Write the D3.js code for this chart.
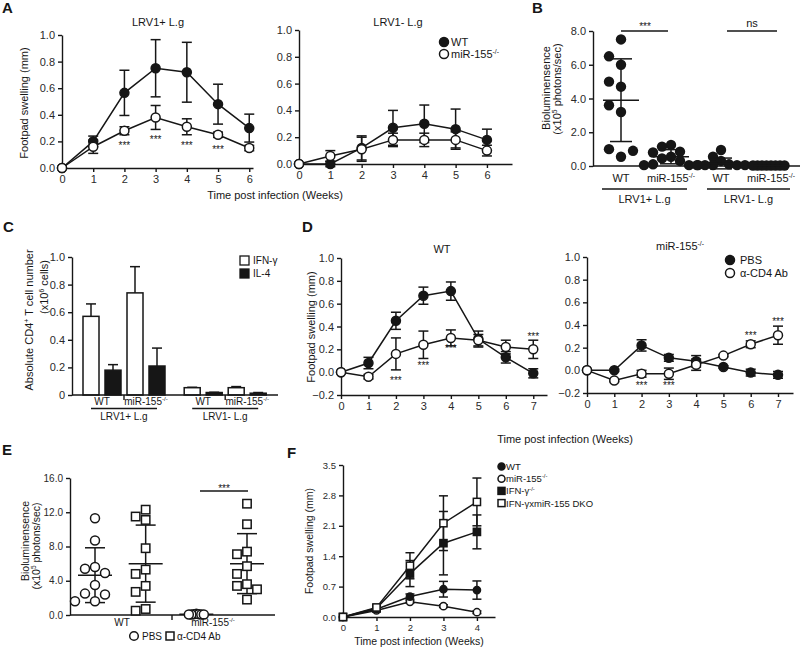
<!DOCTYPE html>
<html>
<head>
<meta charset="utf-8">
<script src="https://cdn.jsdelivr.net/npm/d3@7"></script>
<style>
  body { margin: 0; background: #fff; }
</style>
</head>
<body>
<svg id="fig" width="800" height="648"></svg>
<script>
/* global d3 */
const FONT = '"Liberation Sans", Arial, Helvetica, sans-serif'
const INK = '#161616'

// ---- A: footpad swelling, LRV1+ and LRV1- ----
const weeksA = [0, 1, 2, 3, 4, 5, 6]
const aPosWT = [0, 0.20, 0.565, 0.75, 0.72, 0.48, 0.30]
const aPosWTErr = [0, 0.04, 0.17, 0.215, 0.225, 0.15, 0.105]
const aPosKO = [0, 0.16, 0.28, 0.38, 0.31, 0.25, 0.15]
const aPosKOErr = [0, 0.05, 0.03, 0.09, 0.06, 0.02, 0.02]
const aPosStarWeeks = [2, 3, 4, 5]
const aPosStarAt = [0.186, 0.235, 0.186, 0.16]
const aNegWT = [0, 0.0, 0.12, 0.27, 0.30, 0.26, 0.18]
const aNegWTErr = [0, 0.02, 0.09, 0.13, 0.14, 0.15, 0.08]
const aNegKO = [0, 0.06, 0.11, 0.18, 0.18, 0.18, 0.10]
const aNegKOErr = [0, 0.04, 0.09, 0.05, 0.05, 0.06, 0.04]
const aTicks = [0, 0.2, 0.4, 0.6, 0.8, 1.0]

// ---- B: bioluminescence ----
const bGroups = ['WT', 'miR-155^{-/-}', 'WT', 'miR-155^{-/-}']
const bInfections = ['LRV1+ L.g', 'LRV1- L.g']
const bPosWT = [7.5, 6.0, 4.7, 3.2, 0.55, 6.5, 5.0, 3.6, 1.0, 0.9]
const bPosKO = [1.25, 1.15, 0.85, 0.8, 0.55, 0.45, 0.3, 0.1, 0.05, 0.05, 0.05]
const bNegWT = [0.95, 0.55, 0.3, 0.1, 0.05, 0.05, 0.05, 0.05, 0.05]
const bNegKO = [0.03, 0.03, 0.03, 0.03, 0.03, 0.03, 0.03, 0.03]
const bMean = [3.9, 0.55, 0.15, 0.03]
const bSD = [2.45, 0.42, 0.32, 0.01]
const bTicks = [0, 2, 4, 6, 8]

// ---- C: CD4+ T cells ----
const cGroups = ['WT', 'miR-155^{-/-}', 'WT', 'miR-155^{-/-}']
const cIFN = [0.57, 0.74, 0.053, 0.053]
const cIFNErr = [0.09, 0.19, 0.003, 0.008]
const cIL4 = [0.18, 0.21, 0.018, 0.013]
const cIL4Err = [0.04, 0.13, 0.002, 0.005]
const cTicks = [0, 0.2, 0.4, 0.6, 0.8, 1.0]

// ---- D: anti-CD4 depletion ----
const weeksD = [0, 1, 2, 3, 4, 5, 6, 7]
const dWtPBS = [0, 0.08, 0.45, 0.67, 0.71, 0.29, 0.13, -0.01]
const dWtPBSErr = [0, 0.05, 0.075, 0.075, 0.08, 0.07, 0.05, 0.04]
const dWtCD4 = [0, -0.04, 0.16, 0.24, 0.30, 0.28, 0.22, 0.20]
const dWtCD4Err = [0, 0.02, 0.14, 0.12, 0.07, 0.05, 0.06, 0.08]
const dWtStarWeeks = [2, 3, 4, 7]
const dWtStarAt = [-0.05, 0.08, 0.23, 0.33]
const dKoPBS = [0, 0.0, 0.22, 0.11, 0.08, 0.03, -0.02, -0.04]
const dKoPBSErr = [0, 0.01, 0.05, 0.03, 0.05, 0.01, 0.03, 0.03]
const dKoCD4 = [0, -0.09, -0.03, -0.03, 0.05, 0.13, 0.23, 0.31]
const dKoCD4Err = [0, 0.01, 0.03, 0.05, 0.05, 0.01, 0.03, 0.08]
const dKoStarWeeks = [2, 3, 6, 7]
const dKoStarAt = [-0.11, -0.11, 0.33, 0.45]
const dTicks = [-0.2, 0, 0.2, 0.4, 0.6, 0.8, 1.0]

// ---- E: bioluminescence after depletion ----
const eGroups = ['WT', 'miR-155^{-/-}']
const eWtPBS = [11.3, 8.7, 5.6, 5.4, 4.9, 3.5, 2.5, 2.4, 1.6, 1.6]
const eWtCD4 = [12.3, 11.5, 11.1, 7.8, 5.3, 4.8, 3.4, 2.7, 0.7, 0.5]
const eKoPBS = [0.15, 0.1, 0.1, 0.05, 0.05, 0.05, 0.05]
const eKoCD4 = [13.0, 10.6, 7.4, 7.1, 5.7, 4.8, 3.6, 3.4, 3.0, 1.8]
const eMean = [4.65, 6.0, 0.08, 6.0]
const eSD = [3.2, 4.5, 0.05, 3.5]
const eTicks = [0, 4, 8, 12, 16]

// ---- F: IFN-g knockouts ----
const weeksF = [0, 1, 2, 3, 4]
const fWT = [0, 0.18, 0.47, 0.64, 0.62]
const fWTErr = [0, 0.03, 0.06, 0.18, 0.21]
const fKO = [0, 0.15, 0.35, 0.25, 0.11]
const fKOErr = [0, 0.03, 0.03, 0.03, 0.03]
const fIFN = [0, 0.2, 1.0, 1.7, 1.96]
const fIFNErr = [0, 0.05, 0.3, 0.73, 0.39]
const fDKO = [0, 0.22, 1.18, 2.16, 2.65]
const fDKOErr = [0, 0.05, 0.3, 0.63, 0.55]
const fTicks = [0, 0.7, 1.4, 2.1, 2.8, 3.5]
const fLegend = ['WT', 'miR-155^{-/-}', 'IFN-γ^{-/-}', 'IFN-γxmiR-155 DKO']

const svg = d3.select('#fig').style('font-family', FONT)

// text with ^{...} superscripts
function richText(parent, str, size) {
  const t = parent.append('text').style('font-size', size + 'px').attr('fill', INK)
  let raised = false
  str.split(/\^\{([^}]*)\}/).forEach((s, i) => {
    if (!s) return
    if (i % 2) {
      t.append('tspan').attr('dy', -size * 0.4).style('font-size', (size * 0.62) + 'px').text(s)
      raised = true
    } else {
      const ts = t.append('tspan').text(s)
      if (raised) { ts.attr('dy', size * 0.4); raised = false }
    }
  })
  return t
}

function label(str, x, y, size, anchor = 'middle', rotate = false) {
  const t = richText(svg, str, size).attr('text-anchor', anchor)
  if (rotate) t.attr('transform', `translate(${x},${y}) rotate(-90)`)
  else t.attr('x', x).attr('y', y)
  return t
}

function styleAxis(g, size) {
  g.attr('font-family', FONT).attr('font-size', size)
  g.selectAll('path.domain').attr('stroke', INK).attr('stroke-width', 1.4)
  g.selectAll('.tick line').attr('stroke', INK).attr('stroke-width', 1.4)
  g.selectAll('.tick text').attr('fill', '#2a2a2a')
}

function marker(g, shape, filled, cx, cy, r) {
  const m = shape === 'square'
    ? g.append('rect').attr('x', cx - r).attr('y', cy - r).attr('width', 2 * r).attr('height', 2 * r)
    : g.append('circle').attr('cx', cx).attr('cy', cy).attr('r', r)
  m.attr('fill', filled ? INK : '#fff').attr('stroke', INK).attr('stroke-width', 1.5)
}

function starText(g, x, y) {
  g.append('text').attr('x', x).attr('y', y + 6).attr('text-anchor', 'middle')
    .style('font-size', '10px').attr('fill', INK).text('***')
}

// generic time-course panel
function xyPanel(c) {
  const x = d3.scaleLinear().domain(c.xDomain).range(c.xRange)
  const y = d3.scaleLinear().domain(c.yDomain).range(c.yRange)
  const g = svg.append('g')
  g.append('g').attr('transform', `translate(0,${c.yRange[0]})`)
    .call(d3.axisBottom(x).tickValues(c.weeks).tickFormat(d3.format('d')).tickSize(4).tickSizeOuter(0))
    .call(styleAxis, c.font)
  g.append('g').attr('transform', `translate(${c.xRange[0]},0)`)
    .call(d3.axisLeft(y).tickValues(c.yTicks).tickFormat(d3.format('.1f')).tickSize(4).tickSizeOuter(0))
    .call(styleAxis, c.font)

  const line = d3.line().x((d, i) => x(c.weeks[i])).y((d) => y(d))
  c.series.forEach((s) => {
    g.append('path').datum(s.values).attr('fill', 'none')
      .attr('stroke', INK).attr('stroke-width', 1.5).attr('d', line)
  })
  c.series.forEach((s) => {
    const eb = g.append('g').attr('stroke', INK).attr('stroke-width', 1.5)
    s.values.forEach((v, i) => {
      const e = s.err[i]
      if (!e) return
      const cx = x(c.weeks[i])
      eb.append('line').attr('x1', cx).attr('x2', cx).attr('y1', y(v - e)).attr('y2', y(v + e))
      ;[v - e, v + e].forEach((t) => eb.append('line')
        .attr('x1', cx - c.cap).attr('x2', cx + c.cap).attr('y1', y(t)).attr('y2', y(t)))
    })
  })
  c.series.forEach((s) => s.values.forEach((v, i) => marker(g, s.shape, s.filled, x(c.weeks[i]), y(v), c.r)))
  if (c.starWeeks) c.starWeeks.forEach((w, i) => starText(g, x(w), y(c.starAt[i])))
  return { x, y }
}

// dot spreading for scatter columns
function swarm(vals, y, cx, minD, step) {
  const placed = []
  return vals.map((v) => {
    const py = y(v)
    let px = cx
    for (let k = 0; k < 60; k++) {
      const off = k === 0 ? 0 : (k % 2 ? -1 : 1) * Math.ceil(k / 2) * step
      if (placed.every((p) => Math.hypot(p[0] - cx - off, p[1] - py) >= minD)) { px = cx + off; break }
    }
    placed.push([px, py])
    return [px, py]
  })
}

function meanSD(g, cx, y, m, sd, half, cap) {
  const l = g.append('g').attr('stroke', INK).attr('stroke-width', 1.5)
  l.append('line').attr('x1', cx).attr('x2', cx).attr('y1', y(Math.max(0, m - sd))).attr('y2', y(m + sd))
  l.append('line').attr('x1', cx - half).attr('x2', cx + half).attr('y1', y(m)).attr('y2', y(m))
  ;[m - sd, m + sd].forEach((t) => l.append('line')
    .attr('x1', cx - cap).attr('x2', cx + cap).attr('y1', y(t)).attr('y2', y(t)))
}

// ================= A =================
label('A', 2, 13, 15, 'start').style('font-weight', 'bold')
xyPanel({
  weeks: weeksA, xDomain: [0, 6.12], xRange: [62, 253], yDomain: [0, 1], yRange: [168, 35],
  yTicks: aTicks, font: 11, cap: 5, r: 4.5,
  series: [
    { values: aPosWT, err: aPosWTErr, shape: 'circle', filled: true },
    { values: aPosKO, err: aPosKOErr, shape: 'circle', filled: false }
  ],
  starWeeks: aPosStarWeeks, starAt: aPosStarAt
})
xyPanel({
  weeks: weeksA, xDomain: [0, 6.8], xRange: [299, 512], yDomain: [0, 1], yRange: [164, 30],
  yTicks: aTicks, font: 11, cap: 5, r: 4.5,
  series: [
    { values: aNegWT, err: aNegWTErr, shape: 'circle', filled: true },
    { values: aNegKO, err: aNegKOErr, shape: 'circle', filled: false }
  ]
})
label('LRV1+ L.g', 158, 26, 11)
label('LRV1- L.g', 398, 26, 11)
label('Footpad swelling (mm)', 28, 103, 11, 'middle', true)
label('Time post infection (Weeks)', 275, 199, 11)
marker(svg, 'circle', true, 444, 42, 4.5)
label('WT', 451, 46, 11, 'start')
marker(svg, 'circle', false, 444, 54, 4.5)
label('miR-155^{-/-}', 451, 58, 11, 'start')

// ================= B =================
label('B', 532, 13, 15, 'start').style('font-weight', 'bold')
{
  const y = d3.scaleLinear().domain([0, 8]).range([166, 31])
  const x = d3.scalePoint().domain(d3.range(4)).range([621, 771])
  const g = svg.append('g')
  g.append('g').attr('transform', 'translate(593,0)')
    .call(d3.axisLeft(y).tickValues(bTicks).tickFormat(d3.format('.1f')).tickSize(4).tickSizeOuter(0))
    .call(styleAxis, 11)
  g.append('line').attr('x1', 593).attr('x2', 800).attr('y1', y(0)).attr('y2', y(0))
    .attr('stroke', INK).attr('stroke-width', 1.4)
  const cols = [bPosWT, bPosKO, bNegWT, bNegKO]
  const spread = [[10, 12], [9, 9], [8, 8], [4.5, 4.5]]
  cols.forEach((vals, i) => {
    swarm(vals, y, x(i), spread[i][0], spread[i][1]).forEach(([px, py]) =>
      g.append('circle').attr('cx', px).attr('cy', py).attr('r', 5.2).attr('fill', INK))
  })
  cols.forEach((vals, i) => meanSD(g, x(i), y, bMean[i], bSD[i], 18, 11))
  bGroups.forEach((s, i) => label(s, x(i), 182, 11))
  const under = [[602, 687], [707, 790]]
  under.forEach(([a, b], i) => {
    g.append('line').attr('x1', a).attr('x2', b).attr('y1', 189).attr('y2', 189)
      .attr('stroke', INK).attr('stroke-width', 1.4)
    label(bInfections[i], (a + b) / 2, 203, 11)
  })
  // significance
  g.append('line').attr('x1', x(0)).attr('x2', x(1) - 3).attr('y1', y(8)).attr('y2', y(8))
    .attr('stroke', INK).attr('stroke-width', 1.4)
  starText(g, (x(0) + x(1)) / 2 - 1, 24)
  g.append('line').attr('x1', x(2) + 6).attr('x2', x(3) + 6).attr('y1', y(8)).attr('y2', y(8))
    .attr('stroke', INK).attr('stroke-width', 1.4)
  label('ns', (x(2) + x(3)) / 2 + 6, 27, 11)
  label('Bioluminensence', 550, 88, 11, 'middle', true)
  label('(x10^{5} photons/sec)', 561, 89, 11, 'middle', true)
}

// ================= C =================
label('C', 3, 232, 15, 'start').style('font-weight', 'bold')
{
  const y = d3.scaleLinear().domain([0, 1]).range([395, 257])
  const slots = [0, 1, 2.3, 3.3]
  const x = d3.scaleLinear().domain([0, 1]).range([102, 146])
  const g = svg.append('g')
  g.append('g').attr('transform', 'translate(72,0)')
    .call(d3.axisLeft(y).tickValues(cTicks).tickFormat((d) => d === 0 ? '0' : d3.format('.1f')(d)).tickSize(4).tickSizeOuter(0))
    .call(styleAxis, 11)
  const bw = 16
  const bars = [
    { vals: cIFN, err: cIFNErr, fill: '#fff', dx: -19 },
    { vals: cIL4, err: cIL4Err, fill: INK, dx: 3 }
  ]
  bars.forEach((b) => {
    b.vals.forEach((v, i) => {
      const bx = x(slots[i]) + b.dx
      const e = b.err[i]
      const cx = bx + bw / 2
      g.append('line').attr('x1', cx).attr('x2', cx).attr('y1', y(v)).attr('y2', y(v + e))
        .attr('stroke', INK).attr('stroke-width', 1.5)
      g.append('line').attr('x1', cx - 5).attr('x2', cx + 5).attr('y1', y(v + e)).attr('y2', y(v + e))
        .attr('stroke', INK).attr('stroke-width', 1.5)
      g.append('rect').attr('x', bx).attr('y', y(v)).attr('width', bw).attr('height', y(0) - y(v))
        .attr('fill', b.fill).attr('stroke', INK).attr('stroke-width', 1.5)
    })
  })
  g.append('line').attr('x1', 72).attr('x2', 278).attr('y1', y(0)).attr('y2', y(0))
    .attr('stroke', INK).attr('stroke-width', 1.4)
  ;[[0, 1], [2, 3]].forEach(([a, b], k) => {
    const mid = (x(slots[a]) + x(slots[b])) / 2
    g.append('line').attr('x1', mid).attr('x2', mid).attr('y1', y(0)).attr('y2', y(0) + 5)
      .attr('stroke', INK).attr('stroke-width', 1.4)
    g.append('line').attr('x1', x(slots[a]) - 11).attr('x2', x(slots[b]) + 11).attr('y1', 408.5).attr('y2', 408.5)
      .attr('stroke', INK).attr('stroke-width', 1.4)
    label(bInfections[k], mid, 420, 10)
  })
  cGroups.forEach((s, i) => label(s, x(slots[i]), 405, 10))
  // legend
  g.append('rect').attr('x', 240).attr('y', 256).attr('width', 9).attr('height', 9)
    .attr('fill', '#fff').attr('stroke', INK).attr('stroke-width', 1.3)
  label('IFN-γ', 253, 264, 10, 'start')
  g.append('rect').attr('x', 240).attr('y', 269).attr('width', 9).attr('height', 9)
    .attr('fill', INK).attr('stroke', INK).attr('stroke-width', 1.3)
  label('IL-4', 253, 277, 10, 'start')
  label('Absolute CD4^{+} T cell number', 33, 320, 11, 'middle', true)
  label('(x10^{6} cells)', 48, 287, 11, 'middle', true)
}

// ================= D =================
label('D', 302, 232, 15, 'start').style('font-weight', 'bold')
xyPanel({
  weeks: weeksD, xDomain: [0, 7.5], xRange: [341, 547], yDomain: [-0.2, 1], yRange: [395, 258],
  yTicks: dTicks, font: 11, cap: 5, r: 4.5,
  series: [
    { values: dWtPBS, err: dWtPBSErr, shape: 'circle', filled: true },
    { values: dWtCD4, err: dWtCD4Err, shape: 'circle', filled: false }
  ],
  starWeeks: dWtStarWeeks, starAt: dWtStarAt
})
xyPanel({
  weeks: weeksD, xDomain: [0, 7.55], xRange: [587, 793], yDomain: [-0.2, 1], yRange: [393, 257],
  yTicks: dTicks, font: 11, cap: 5, r: 4.5,
  series: [
    { values: dKoPBS, err: dKoPBSErr, shape: 'circle', filled: true },
    { values: dKoCD4, err: dKoCD4Err, shape: 'circle', filled: false }
  ],
  starWeeks: dKoStarWeeks, starAt: dKoStarAt
})
label('WT', 442, 253, 11)
label('miR-155^{-/-}', 680, 250, 11)
label('Footpad swelling (mm)', 315, 327, 11, 'middle', true)
label('Time post infection (Weeks)', 565, 443, 11)
marker(svg, 'circle', true, 730, 260, 4.5)
label('PBS', 740, 264, 11, 'start')
marker(svg, 'circle', false, 730, 273, 4.5)
label('α-CD4 Ab', 740, 277, 11, 'start')

// ================= E =================
label('E', 2, 455, 15, 'start').style('font-weight', 'bold')
{
  const y = d3.scaleLinear().domain([0, 16]).range([615, 478])
  const x = d3.scalePoint().domain(d3.range(4)).range([95, 247])
  const g = svg.append('g')
  g.append('g').attr('transform', 'translate(70,0)')
    .call(d3.axisLeft(y).tickValues(eTicks).tickFormat(d3.format('.1f')).tickSize(4).tickSizeOuter(0))
    .call(styleAxis, 10)
  g.append('line').attr('x1', 70).attr('x2', 275).attr('y1', y(0)).attr('y2', y(0))
    .attr('stroke', INK).attr('stroke-width', 1.4)
  g.append('line').attr('x1', 172).attr('x2', 172).attr('y1', y(0)).attr('y2', y(0) + 5)
    .attr('stroke', INK).attr('stroke-width', 1.4)
  const cols = [eWtPBS, eWtCD4, eKoPBS, eKoCD4]
  const shapes = ['circle', 'square', 'circle', 'square']
  const spread = [[9.5, 10], [9.5, 10], [2.5, 2.5], [9.5, 10]]
  cols.forEach((vals, i) => meanSD(g, x(i), y, eMean[i], eSD[i], 17, 10))
  cols.forEach((vals, i) => {
    swarm(vals, y, x(i), spread[i][0], spread[i][1]).forEach(([px, py]) =>
      marker(g, shapes[i], false, px, py, shapes[i] === 'square' ? 4.2 : 4.5))
  })
  // significance
  g.append('line').attr('x1', 200).attr('x2', 248).attr('y1', 491).attr('y2', 491)
    .attr('stroke', INK).attr('stroke-width', 1.4)
  starText(g, 224, 486)
  label(eGroups[0], 122, 626, 10)
  label(eGroups[1], 213, 626, 10)
  marker(g, 'circle', false, 134, 636, 4.3)
  label('PBS', 142, 640, 10, 'start')
  marker(g, 'square', false, 170, 636, 4)
  label('α-CD4 Ab', 177, 640, 10, 'start')
  label('Bioluminensence', 29, 541, 10.5, 'middle', true)
  label('(x10^{5} photons/sec)', 40, 546, 10.5, 'middle', true)
}

// ================= F =================
label('F', 287, 458, 15, 'start').style('font-weight', 'bold')
xyPanel({
  weeks: weeksF, xDomain: [0, 4.54], xRange: [343, 495], yDomain: [0, 3.5], yRange: [617, 465],
  yTicks: fTicks, font: 9.5, cap: 4.5, r: 3.6,
  series: [
    { values: fKO, err: fKOErr, shape: 'circle', filled: false },
    { values: fWT, err: fWTErr, shape: 'circle', filled: true },
    { values: fIFN, err: fIFNErr, shape: 'square', filled: true },
    { values: fDKO, err: fDKOErr, shape: 'square', filled: false }
  ]
})
label('Footpad swelling (mm)', 313, 541, 10.5, 'middle', true)
label('Time post infection (Weeks)', 419, 645, 10.5)
;[['circle', true], ['circle', false], ['square', true], ['square', false]].forEach(([shape, filled], i) => {
  const cy = 466.5 + i * 12.2
  marker(svg, shape, filled, 501.5, cy, 3.5)
  label(fLegend[i], 506, cy + 3.5, 9.5, 'start')
})
</script>
</body>
</html>
